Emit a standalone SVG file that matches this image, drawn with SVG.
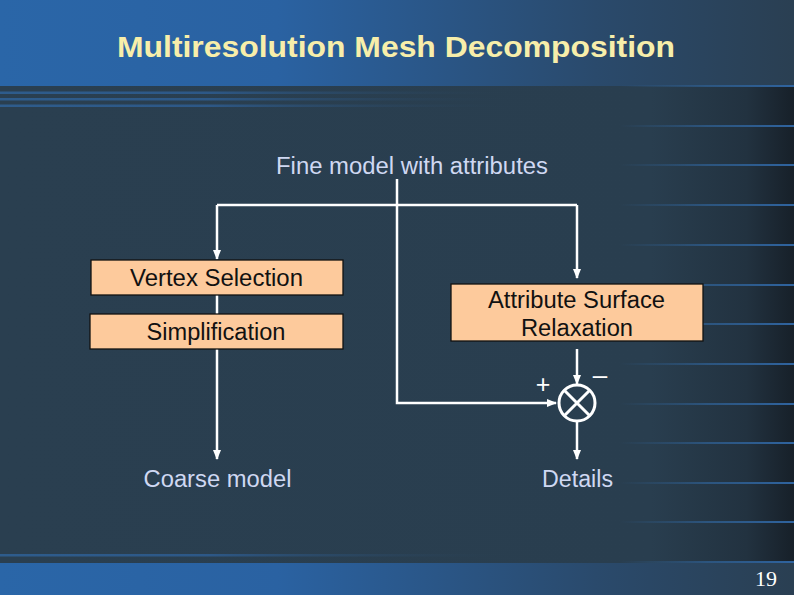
<svg xmlns="http://www.w3.org/2000/svg" width="794" height="595" viewBox="0 0 794 595">
<defs>
<linearGradient id="hdr" x1="0" y1="0" x2="1" y2="0">
<stop offset="0" stop-color="#2a66a8"/><stop offset="0.35" stop-color="#2a62a2"/><stop offset="0.75" stop-color="#2a4a6c"/><stop offset="1" stop-color="#2a3f52"/>
</linearGradient>
<linearGradient id="bg" x1="0" y1="0" x2="1" y2="0">
<stop offset="0" stop-color="#2a3f50"/><stop offset="0.82" stop-color="#293e4f"/><stop offset="0.94" stop-color="#223240"/><stop offset="1" stop-color="#172029"/>
</linearGradient>
<linearGradient id="lstripe" x1="0" y1="0" x2="1" y2="0">
<stop offset="0" stop-color="#2e5c8c"/><stop offset="0.4" stop-color="#2d5887"/><stop offset="1" stop-color="#2a3f50" stop-opacity="0"/>
</linearGradient>
<linearGradient id="rstripe" x1="0" y1="0" x2="1" y2="0">
<stop offset="0" stop-color="#2e5c8c" stop-opacity="0"/><stop offset="0.5" stop-color="#2e5c8c" stop-opacity="0.8"/><stop offset="1" stop-color="#2f64a0"/>
</linearGradient>
<marker id="ah" viewBox="0 0 10 10" refX="9" refY="5" markerWidth="4" markerHeight="4" orient="auto" markerUnits="strokeWidth">
<path d="M0,1 L10,5 L0,9 z" fill="#ffffff"/>
</marker>
<style>
.ln{stroke:#ffffff;stroke-width:2.5;fill:none}
.box{fill:#fdca9c;stroke:#111111;stroke-width:1.3}
.bt{font-family:"Liberation Sans",Arial,sans-serif;font-size:23px;fill:#111111;text-anchor:middle}
.lt{font-family:"Liberation Sans",Arial,sans-serif;font-size:23px;fill:#cfd8f2;text-anchor:middle}
.sg{font-family:"Liberation Sans",Arial,sans-serif;fill:#ffffff;text-anchor:middle}
</style>
</defs>
<rect x="0" y="0" width="794" height="595" fill="url(#bg)"/>
<rect x="0" y="0" width="794" height="86" fill="url(#hdr)"/>
<rect x="0" y="563" width="794" height="32" fill="url(#hdr)"/>
<g id="stripes">
<rect x="0" y="91.5" width="520" height="2.5" fill="url(#lstripe)"/>
<rect x="0" y="98" width="520" height="2.5" fill="url(#lstripe)"/>
<rect x="0" y="104.5" width="520" height="2.5" fill="url(#lstripe)"/>
<rect x="0" y="554" width="520" height="2.5" fill="url(#lstripe)"/>
<rect x="620" y="85" width="174" height="2" fill="url(#rstripe)"/>
<rect x="620" y="125" width="174" height="2" fill="url(#rstripe)"/>
<rect x="620" y="164" width="174" height="2" fill="url(#rstripe)"/>
<rect x="620" y="204" width="174" height="2" fill="url(#rstripe)"/>
<rect x="620" y="244" width="174" height="2" fill="url(#rstripe)"/>
<rect x="620" y="284" width="174" height="2" fill="url(#rstripe)"/>
<rect x="620" y="323" width="174" height="2" fill="url(#rstripe)"/>
<rect x="620" y="363" width="174" height="2" fill="url(#rstripe)"/>
<rect x="620" y="403" width="174" height="2" fill="url(#rstripe)"/>
<rect x="620" y="442" width="174" height="2" fill="url(#rstripe)"/>
<rect x="620" y="482" width="174" height="2" fill="url(#rstripe)"/>
<rect x="620" y="521" width="174" height="2" fill="url(#rstripe)"/>
<rect x="620" y="561" width="174" height="2" fill="url(#rstripe)"/>
</g>
<text x="396" y="57" font-family="Liberation Sans,Arial,sans-serif" font-size="30" font-weight="bold" fill="#f7eeaa" text-anchor="middle" textLength="558" lengthAdjust="spacingAndGlyphs">Multiresolution Mesh Decomposition</text>
<text x="766" y="586" font-family="Liberation Serif,Times New Roman,serif" font-size="22" fill="#ffffff" text-anchor="middle">19</text>
<g id="connectors">
<path class="ln" d="M397,179 V403 H556" marker-end="url(#ah)"/>
<path class="ln" d="M217,205 H577"/>
<path class="ln" d="M217,205 V259" marker-end="url(#ah)"/>
<path class="ln" d="M217,295 V314"/>
<path class="ln" d="M217,349 V459" marker-end="url(#ah)"/>
<path class="ln" d="M577,205 V278" marker-end="url(#ah)"/>
<path class="ln" d="M577,349 V384" marker-end="url(#ah)"/>
<path class="ln" d="M577,421 V459" marker-end="url(#ah)"/>
</g>
<g id="fine"><text class="lt" x="412" y="174" textLength="272" lengthAdjust="spacingAndGlyphs">Fine model with attributes</text></g>
<g id="vertex"><rect class="box" x="91" y="260" width="252" height="35"/><text class="bt" x="216.5" y="286" textLength="173" lengthAdjust="spacingAndGlyphs">Vertex Selection</text></g>
<g id="simpl"><rect class="box" x="90" y="314" width="253" height="35"/><text class="bt" x="216" y="340" textLength="139" lengthAdjust="spacingAndGlyphs">Simplification</text></g>
<g id="asr"><rect class="box" x="451" y="284" width="252" height="57"/><text class="bt" x="576.5" y="308" textLength="177" lengthAdjust="spacingAndGlyphs">Attribute Surface</text><text class="bt" x="577" y="336" textLength="112" lengthAdjust="spacingAndGlyphs">Relaxation</text></g>
<g id="sum">
<circle cx="577" cy="403" r="18" fill="none" stroke="#ffffff" stroke-width="3"/>
<path d="M564,390 L590,416 M590,390 L564,416" stroke="#ffffff" stroke-width="3"/>
<text class="sg" x="543" y="393" font-size="25">+</text>
<text class="sg" x="600" y="384" font-size="26">–</text>
</g>
<g id="coarse"><text class="lt" x="217.5" y="487" textLength="148" lengthAdjust="spacingAndGlyphs">Coarse model</text></g>
<g id="details"><text class="lt" x="577.5" y="487" textLength="71" lengthAdjust="spacingAndGlyphs">Details</text></g>
</svg>
